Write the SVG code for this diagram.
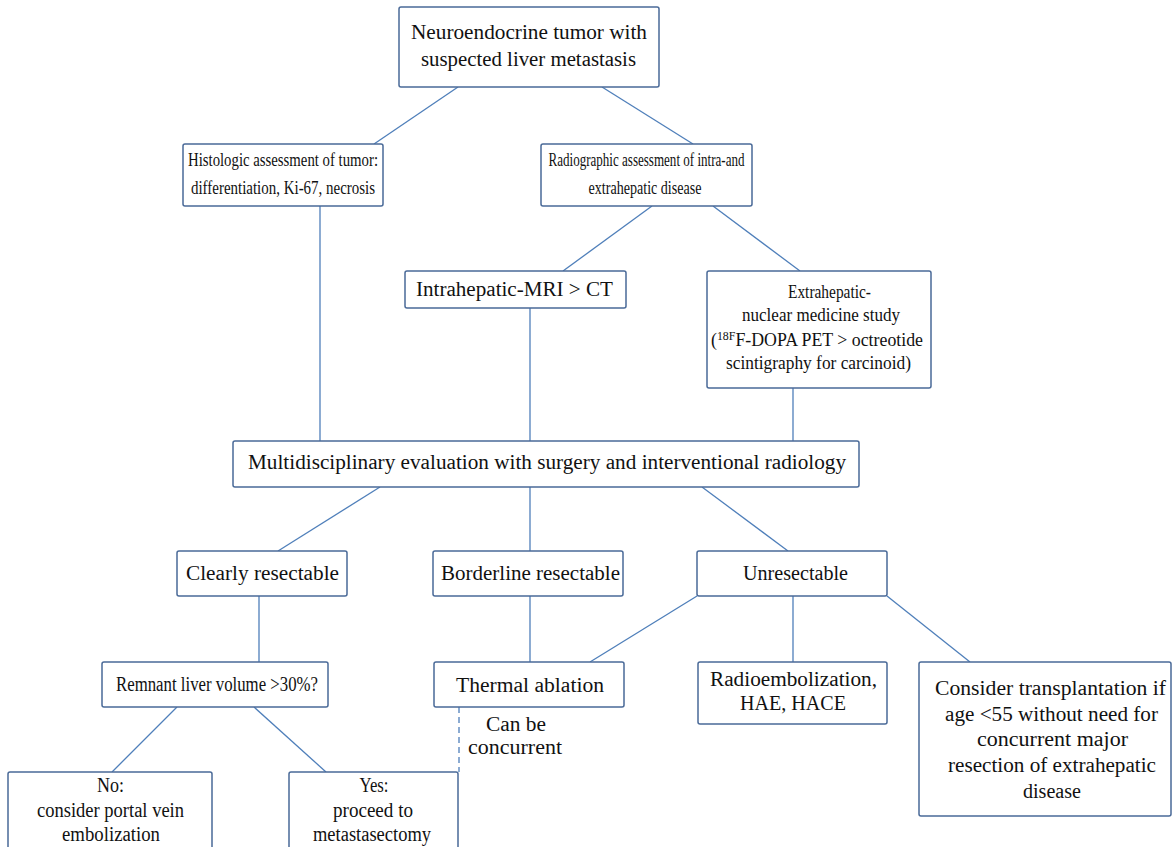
<svg xmlns="http://www.w3.org/2000/svg" width="1173" height="847" viewBox="0 0 1173 847">
<style>
.box{fill:#fff;stroke:#4a6a98;stroke-width:1.5}
.t{font-family:"Liberation Serif","Times New Roman",serif;font-size:20px;fill:#111;text-anchor:middle}
.s{font-size:18px}
.c{stroke:#4f7fba;stroke-width:1.3;fill:none}
.d{stroke:#4f7fba;stroke-width:1.3;fill:none;stroke-dasharray:6,4}
</style>
<rect width="1173" height="847" fill="#fff"/>
<g id="connectors">
<line class="c" x1="458" y1="87" x2="374" y2="144"/>
<line class="c" x1="602" y1="87" x2="693" y2="144"/>
<line class="c" x1="652" y1="206" x2="563" y2="271"/>
<line class="c" x1="713" y1="206" x2="800" y2="271"/>
<line class="c" x1="320" y1="206" x2="320" y2="441"/>
<line class="c" x1="530" y1="308" x2="530" y2="441"/>
<line class="c" x1="793" y1="388" x2="793" y2="441"/>
<line class="c" x1="380" y1="487" x2="278" y2="551"/>
<line class="c" x1="530" y1="487" x2="530" y2="551"/>
<line class="c" x1="702" y1="487" x2="788" y2="551"/>
<line class="c" x1="259" y1="596" x2="259" y2="662"/>
<line class="c" x1="530" y1="596" x2="530" y2="662"/>
<line class="c" x1="697" y1="596" x2="590" y2="662"/>
<line class="c" x1="793" y1="596" x2="793" y2="662"/>
<line class="c" x1="887" y1="596" x2="970" y2="662"/>
<line class="c" x1="177" y1="707" x2="112" y2="772"/>
<line class="c" x1="254" y1="707" x2="326" y2="772"/>
<line class="d" x1="459" y1="707" x2="459" y2="772"/>
<text class="t" x="516" y="731" textLength="60" lengthAdjust="spacingAndGlyphs">Can be</text>
<text class="t" x="515" y="754" textLength="94" lengthAdjust="spacingAndGlyphs">concurrent</text>
</g>
<g id="n1"><rect class="box" x="399" y="7" width="260" height="80" rx="2"/>
<text class="t" x="529" y="39" textLength="236" lengthAdjust="spacingAndGlyphs">Neuroendocrine tumor with</text>
<text class="t" x="528.5" y="66" textLength="215" lengthAdjust="spacingAndGlyphs">suspected liver metastasis</text></g>
<g id="n2"><rect class="box" x="183" y="144" width="200" height="62" rx="2"/>
<text class="t s" x="283" y="166" textLength="190" lengthAdjust="spacingAndGlyphs">Histologic assessment of tumor:</text>
<text class="t s" x="283" y="194" textLength="184" lengthAdjust="spacingAndGlyphs">differentiation, Ki-67, necrosis</text></g>
<g id="n3"><rect class="box" x="541" y="144" width="211" height="62" rx="2"/>
<text class="t s" x="646.5" y="166" textLength="196" lengthAdjust="spacingAndGlyphs">Radiographic assessment of intra-and</text>
<text class="t s" x="645" y="194" textLength="113" lengthAdjust="spacingAndGlyphs">extrahepatic disease</text></g>
<g id="n4"><rect class="box" x="405" y="271" width="221" height="37" rx="2"/>
<text class="t" x="514.5" y="296" textLength="197" lengthAdjust="spacingAndGlyphs">Intrahepatic-MRI &gt; CT</text></g>
<g id="n5"><rect class="box" x="707" y="271" width="224" height="117" rx="2"/>
<text class="t s" x="829.5" y="298" textLength="83" lengthAdjust="spacingAndGlyphs">Extrahepatic-</text>
<text class="t s" x="821" y="321" textLength="158" lengthAdjust="spacingAndGlyphs">nuclear medicine study</text>
<text class="t s" x="817" y="346" textLength="212" lengthAdjust="spacingAndGlyphs">(<tspan font-size="12" dy="-6">18F</tspan><tspan dy="6">F-DOPA PET &gt; octreotide</tspan></text>
<text class="t s" x="818.5" y="369" textLength="185" lengthAdjust="spacingAndGlyphs">scintigraphy for carcinoid)</text></g>
<g id="n6"><rect class="box" x="233" y="441" width="626" height="46" rx="2"/>
<text class="t" x="547" y="469" textLength="598" lengthAdjust="spacingAndGlyphs">Multidisciplinary evaluation with surgery and interventional radiology</text></g>
<g id="n7"><rect class="box" x="177" y="551" width="170" height="45" rx="2"/>
<text class="t" x="262.5" y="580" textLength="153" lengthAdjust="spacingAndGlyphs">Clearly resectable</text></g>
<g id="n8"><rect class="box" x="433" y="551" width="190" height="45" rx="2"/>
<text class="t" x="530.5" y="580" textLength="179" lengthAdjust="spacingAndGlyphs">Borderline resectable</text></g>
<g id="n9"><rect class="box" x="697" y="551" width="190" height="45" rx="2"/>
<text class="t" x="795.5" y="580" textLength="105" lengthAdjust="spacingAndGlyphs">Unresectable</text></g>
<g id="n10"><rect class="box" x="102" y="662" width="226" height="45" rx="2"/>
<text class="t" x="217" y="691" textLength="202" lengthAdjust="spacingAndGlyphs">Remnant liver volume &gt;30%?</text></g>
<g id="n11"><rect class="box" x="434" y="662" width="190" height="45" rx="2"/>
<text class="t" x="530" y="692" textLength="148" lengthAdjust="spacingAndGlyphs">Thermal ablation</text></g>
<g id="n12"><rect class="box" x="698" y="662" width="189" height="62" rx="2"/>
<text class="t" x="793.5" y="686" textLength="167" lengthAdjust="spacingAndGlyphs">Radioembolization,</text>
<text class="t" x="793" y="710" textLength="106" lengthAdjust="spacingAndGlyphs">HAE, HACE</text></g>
<g id="n13"><rect class="box" x="919" y="662" width="252" height="154" rx="2"/>
<text class="t" x="1050.5" y="695" textLength="231" lengthAdjust="spacingAndGlyphs">Consider transplantation if</text>
<text class="t" x="1051.5" y="721" textLength="213" lengthAdjust="spacingAndGlyphs">age &lt;55 without need for</text>
<text class="t" x="1052.5" y="746" textLength="151" lengthAdjust="spacingAndGlyphs">concurrent major</text>
<text class="t" x="1052" y="772" textLength="208" lengthAdjust="spacingAndGlyphs">resection of extrahepatic</text>
<text class="t" x="1052" y="798" textLength="58" lengthAdjust="spacingAndGlyphs">disease</text></g>
<g id="n14"><rect class="box" x="8" y="772" width="204" height="90" rx="2"/>
<text class="t" x="110.5" y="792" textLength="27" lengthAdjust="spacingAndGlyphs">No:</text>
<text class="t" x="110.5" y="817" textLength="147" lengthAdjust="spacingAndGlyphs">consider portal vein</text>
<text class="t" x="111" y="841" textLength="98" lengthAdjust="spacingAndGlyphs">embolization</text></g>
<g id="n15"><rect class="box" x="289" y="772" width="169" height="90" rx="2"/>
<text class="t" x="374" y="792" textLength="29" lengthAdjust="spacingAndGlyphs">Yes:</text>
<text class="t" x="373" y="817" textLength="80" lengthAdjust="spacingAndGlyphs">proceed to</text>
<text class="t" x="372" y="841" textLength="118" lengthAdjust="spacingAndGlyphs">metastasectomy</text></g>
</svg>
